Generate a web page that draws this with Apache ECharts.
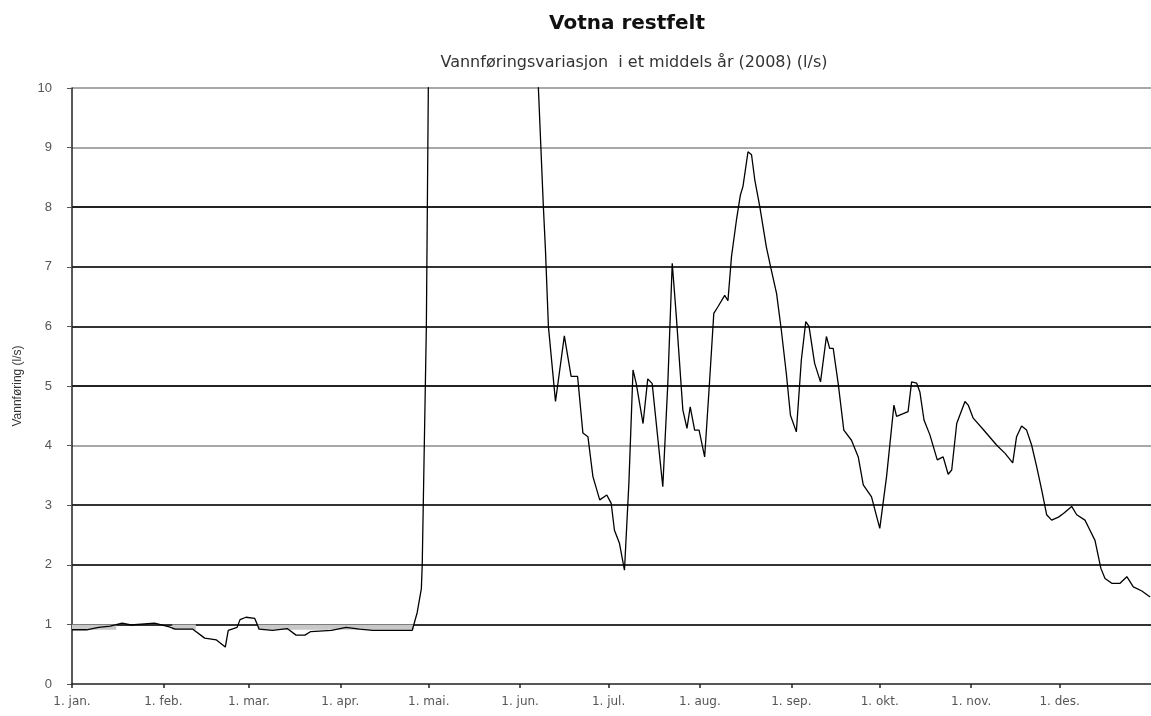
<!DOCTYPE html>
<html>
<head>
<meta charset="utf-8">
<title>Votna restfelt</title>
<script src="https://cdn.jsdelivr.net/npm/echarts@6/dist/echarts.min.js"></script>
<style>
  html, body { margin: 0; padding: 0; background: #fff; }
  #chart { width: 1151px; height: 716px; }
</style>
</head>
<body>
<div id="chart"></div>
<script>
// Day of year (0 = 1. jan. 2008) for each sampled point of the flow curve
const dayOfYear = [
  0, 5, 9, 13, 17, 20, 28, 33, 35, 41, 45, 49, 52, 53, 56, 57, 59, 62, 63.5, 68,
  73, 76, 79, 81, 88, 93, 97.5, 102, 115.4, 117.1, 118.5, 118.8, 120.2, 120.9,
  123, 128, 135, 142, 150, 156, 158.2, 159.9, 160.6, 161.6, 164, 167, 169.3, 171.5,
  173.3, 175, 176.7, 179, 181.4, 182.9, 184, 185.7, 187.4, 188.9, 190.3, 191.4,
  193.7, 195.3, 196.8, 200.4, 202.1, 203.6, 205, 207.2, 208.6, 209.7, 211.2, 212.7,
  214.6, 216.3, 217.7, 219.1, 221.4, 222.5, 223.7, 225.4, 226.7, 227.6, 229.3, 230.5,
  231.6, 233.3, 235.5, 237.2, 239, 240.6, 242.3, 243.7, 245.7, 247.4, 248.9, 250,
  251.9, 253.9, 255.9, 257, 258.2, 259.9, 261.8, 264.4, 266.7, 268.4, 271.2, 274,
  276.3, 278.8, 279.7, 283.6, 284.8, 286.5, 287.6, 289, 291, 293.5, 295.5, 297.2,
  298.4, 300.1, 302.9, 304, 305.7, 309.1, 313.6, 316.5, 319.1, 320.4, 322.1, 323.8,
  325.5, 327.2, 328.9, 330.6, 332.3, 334.6, 336.3, 339.1, 340.8, 343.6, 345.3, 347,
  349, 350.4, 352.7, 355.5, 357.8, 360, 362.9, 365.7
];

// Daily mean flow (l/s) at the days above
const flow = [
  0.91, 0.91, 0.95, 0.97, 1.02, 0.99, 1.02, 0.96, 0.92, 0.92, 0.77, 0.74, 0.62, 0.90, 0.95, 1.08, 1.12, 1.10, 0.92, 0.90,
  0.93, 0.82, 0.82, 0.88, 0.90, 0.95, 0.92, 0.90, 0.90, 1.2, 1.6, 2.0, 6.0, 10.2,
  14, 22, 28, 25, 18, 12, 10.0, 8.0, 7.28, 6.0, 4.74, 5.84, 5.16, 5.16,
  4.21, 4.15, 3.48, 3.09, 3.17, 3.03, 2.58, 2.36, 1.91, 3.37, 5.27, 5.04,
  4.37, 5.12, 5.04, 3.31, 5.04, 7.06, 6.16, 4.60, 4.29, 4.65, 4.26, 4.26,
  3.81, 5.10, 6.22, 6.33, 6.52, 6.43, 7.17, 7.79, 8.20, 8.35, 8.93, 8.88,
  8.46, 8.01, 7.34, 6.95, 6.55, 5.94, 5.21, 4.51, 4.23, 5.44, 6.08, 6.00,
  5.38, 5.07, 5.83, 5.63, 5.63, 5.04, 4.26, 4.09, 3.81, 3.34, 3.14, 2.61,
  3.48, 4.68, 4.49, 4.57, 5.07, 5.05, 4.90, 4.43, 4.18, 3.76, 3.81, 3.52,
  3.59, 4.37, 4.74, 4.68, 4.46, 4.27, 4.01, 3.87, 3.71, 4.15, 4.33, 4.26,
  4.01, 3.65, 3.26, 2.84, 2.75, 2.80, 2.86, 2.98, 2.84, 2.75, 2.58, 2.41,
  1.94, 1.77, 1.69, 1.69, 1.80, 1.63, 1.56, 1.46
];

// Light grey low-flow band just under 1 l/s during winter
const bandDays  = [0, 15, 15.5, 34, 42, 42.5, 63, 116];
const bandLevel = [1, 1, null, 1, 1, null, 1, 1];
const bandFloor = 0.91;

// Month ticks on the x axis
const monthStartDays = [0, 31, 60, 91, 121, 152, 182, 213, 244, 274, 305, 335];
const monthLabels = ['1. jan.', '1. feb.', '1. mar.', '1. apr.', '1. mai.', '1. jun.',
  '1. jul.', '1. aug.', '1. sep.', '1. okt.', '1. nov.', '1. des.'];

const yTicks = [0, 1, 2, 3, 4, 5, 6, 7, 8, 9, 10];

const titleText = 'Votna restfelt';
const subtitleText = 'Vannføringsvariasjon  i et middels år (2008) (l/s)';
const yAxisName = 'Vannføring (l/s)';

const flowData = dayOfYear.map((d, i) => [d, flow[i]]);
const bandData = bandDays.map((d, i) => [d, bandLevel[i]]);

// Grid line shades for the values 1..10 (the 0 line is the x axis itself)
const gridShade = ['#333', '#333', '#333', '#a8a8a8', '#222', '#333', '#333', '#222', '#a8a8a8', '#a8a8a8'];

const font = 'Liberation Sans, Arial, sans-serif';
const wideFont = 'DejaVu Sans, sans-serif';

const chart = echarts.init(document.getElementById('chart'), null, { renderer: 'canvas' });

chart.setOption({
  animation: false,
  backgroundColor: '#ffffff',
  title: [
    {
      text: titleText,
      left: 622,
      top: 9,
      textAlign: 'center',
      textStyle: { fontFamily: wideFont, fontSize: 20, fontWeight: 'bold', color: '#111' }
    },
    {
      text: subtitleText,
      left: 629,
      top: 50,
      textAlign: 'center',
      textStyle: { fontFamily: wideFont, fontSize: 16, fontWeight: 'normal', color: '#333' }
    }
  ],
  grid: { left: 72, right: 0, top: 88, bottom: 32, containLabel: false },
  xAxis: {
    type: 'value',
    min: 0,
    max: 366,
    axisLine: { show: true, onZero: false, lineStyle: { color: '#222', width: 1.5 } },
    axisTick: { show: true, customValues: monthStartDays, length: 4, lineStyle: { color: '#222', width: 1.5 } },
    axisLabel: {
      customValues: monthStartDays,
      formatter: v => monthLabels[monthStartDays.indexOf(v)] || '',
      color: '#555',
      fontFamily: wideFont,
      fontSize: 12,
      margin: 12
    },
    splitLine: { show: false }
  },
  yAxis: {
    type: 'value',
    min: 0,
    max: 10,
    interval: 1,
    name: yAxisName,
    nameLocation: 'middle',
    nameGap: 48,
    nameTextStyle: { fontFamily: font, fontSize: 12, color: '#333' },
    axisLine: { show: true, lineStyle: { color: '#222', width: 1.5 } },
    axisTick: { show: true, length: 5, lineStyle: { color: '#555' } },
    axisLabel: {
      formatter: v => (yTicks.indexOf(v) >= 0 ? String(v) : ''),
      color: '#555',
      fontFamily: font,
      fontSize: 13,
      margin: 20
    },
    splitLine: {
      show: true,
      showMinLine: false,
      lineStyle: { width: 2, color: gridShade }
    }
  },
  series: [
    {
      name: 'band',
      type: 'line',
      data: bandData,
      showSymbol: false,
      connectNulls: false,
      lineStyle: { width: 0, opacity: 0 },
      areaStyle: { color: '#c8c8c8', origin: bandFloor, opacity: 1 },
      z: 1,
      silent: true
    },
    {
      name: 'Vannføring',
      type: 'line',
      data: flowData,
      showSymbol: false,
      clip: true,
      lineStyle: { color: '#000', width: 1.3 },
      z: 3
    }
  ]
});
</script>
</body>
</html>
